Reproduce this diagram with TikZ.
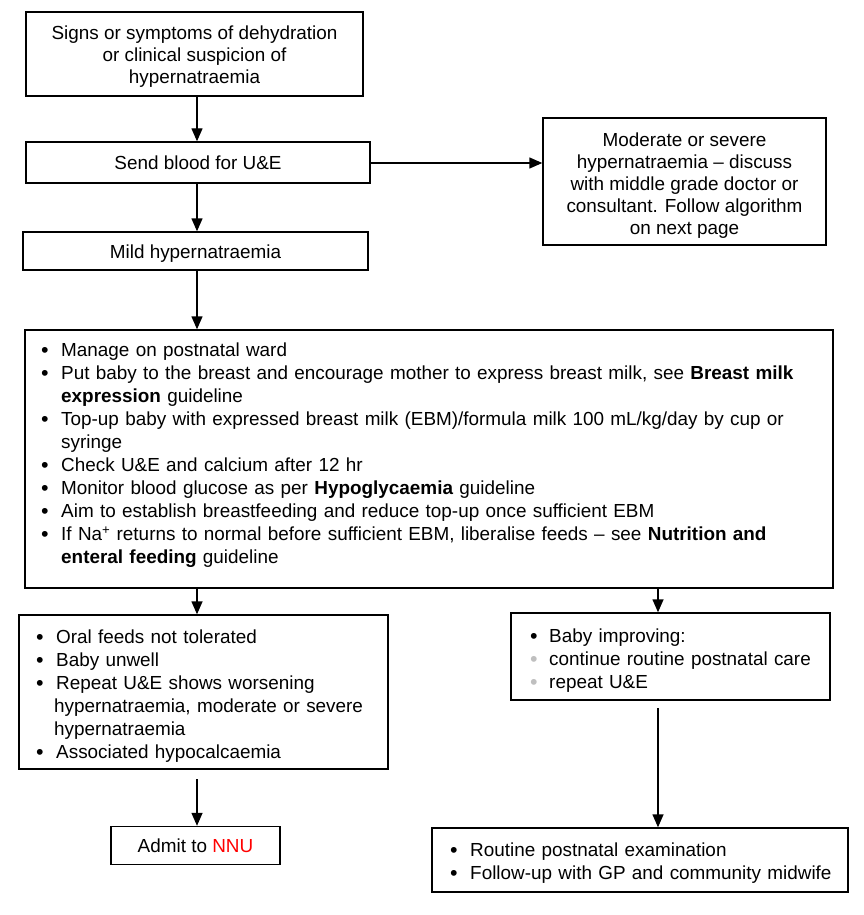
\documentclass[tikz,border=0pt]{standalone}
\usepackage{fontspec}
\setmainfont{Liberation Sans}
\usetikzlibrary{arrows.meta}
\newcommand\fsz{\fontsize{18.9}{22}\selectfont}
\newcommand\fsb{\fontsize{18.9}{23}\selectfont}
\newcommand\bigbul{\raisebox{-0.8pt}{\fontsize{21.5}{22}\selectfont\textbullet}}
\newcommand\bul[1][20]{\makebox[#1pt][l]{\bigbul}}
\newcommand\gbul[1][19]{\makebox[#1pt][l]{\textcolor{black!25}{\bigbul}}}
\begin{document}
\begin{tikzpicture}[x=1pt,y=-1pt,
  box/.style={draw, line width=1.4pt, inner sep=0pt},
  ctxt/.style={inner sep=0pt, font=\fsz, align=center},
  txt/.style={inner sep=0pt, font=\fsb, align=left, anchor=west},
  arr/.style={line width=1.4pt, -{Triangle[length=13pt,width=11pt]}}]
\useasboundingbox (0,0) rectangle (863,915);
\fill[white] (0,0) rectangle (863,915);
% boxes
\node[box, minimum width=337pt, minimum height=84pt] (top) at (194.5,54) {};
\node[box, minimum width=344pt, minimum height=41pt] (send) at (198,162.5) {};
\node[box, minimum width=283pt, minimum height=127pt] (mod) at (684.5,181.5) {};
\node[box, minimum width=345pt, minimum height=38pt] (mild) at (195.5,251) {};
\node[box, minimum width=808pt, minimum height=258pt] (main) at (429,459) {};
\node[box, minimum width=369pt, minimum height=154pt] (lb) at (203.5,692) {};
\node[box, minimum width=319pt, minimum height=87pt] (rb) at (670.5,656.5) {};
\node[box, minimum width=169pt, minimum height=38pt] (adm) at (195.5,845.5) {};
\node[box, minimum width=416pt, minimum height=64pt] (rt) at (640,860) {};
% centred texts
\node[ctxt] (ttop) at ([yshift=-3pt]top.center) {Signs or symptoms of dehydration\\or clinical suspicion of\\hypernatraemia};
\node[ctxt] (tsend) at (send.center) {Send blood for U\&E};
\node[ctxt] (tmod) at ([yshift=-4pt]mod.center) {Moderate or severe\\hypernatraemia -- discuss\\with middle grade doctor or\\consultant. Follow algorithm\\on next page};
\node[ctxt] (tmild) at ([yshift=-3pt]mild.center) {Mild hypernatraemia};
\node[ctxt] (tadm) at (adm.center) {Admit to \textcolor{red}{NNU}};
% bullet texts
\node[txt, text width=800pt] (tmain) at (41,455.5) {%
\bul Manage on postnatal ward\\
\bul Put baby to the breast and encourage mother to express breast milk, see \textbf{Breast milk}\\
\hspace*{20pt}\textbf{expression} guideline\\
\bul Top-up baby with expressed breast milk (EBM)/formula milk 100 mL/kg/day by cup or\\
\hspace*{20pt}syringe\\
\bul Check U\&E and calcium after 12 hr\\
\bul Monitor blood glucose as per \textbf{Hypoglycaemia} guideline\\
\bul Aim to establish breastfeeding and reduce top-up once sufficient EBM\\
\bul If Na\textsuperscript{+} returns to normal before sufficient EBM, liberalise feeds -- see \textbf{Nutrition and}\\
\hspace*{20pt}\textbf{enteral feeding} guideline};
\node[txt, text width=360pt] (tlb) at (36,696.5) {%
\bul Oral feeds not tolerated\\
\bul Baby unwell\\
\bul Repeat U\&E shows worsening\\
\hspace*{18pt}hypernatraemia, moderate or severe\\
\hspace*{18pt}hypernatraemia\\
\bul Associated hypocalcaemia};
\node[txt, text width=300pt] (trb) at (530,660.5) {%
\bul[19]Baby improving:\\
\gbul continue routine postnatal care\\
\gbul repeat U\&E};
\node[txt, text width=400pt] (trt) at (450,863.5) {%
\bul Routine postnatal examination\\
\bul Follow-up with GP and community midwife};
% connectors
\coordinate (xl) at (197,0);
\coordinate (xr) at (658,0);
\coordinate (yh) at (0,163);
\coordinate (s1) at (197,779);
\coordinate (s2) at (658,708);
\draw[arr] (top.south -| xl) -- (send.north -| xl);
\draw[arr] (send.east |- yh) -- (mod.west |- yh);
\draw[arr] (send.south -| xl) -- (mild.north -| xl);
\draw[arr] (mild.south -| xl) -- (main.north -| xl);
\draw[arr] (main.south -| xl) -- (lb.north -| xl);
\draw[arr] (main.south -| xr) -- (rb.north -| xr);
\draw[arr] (s1) -- (adm.north -| s1);
\draw[arr] (s2) -- (rt.north -| s2);
\end{tikzpicture}
\end{document}
